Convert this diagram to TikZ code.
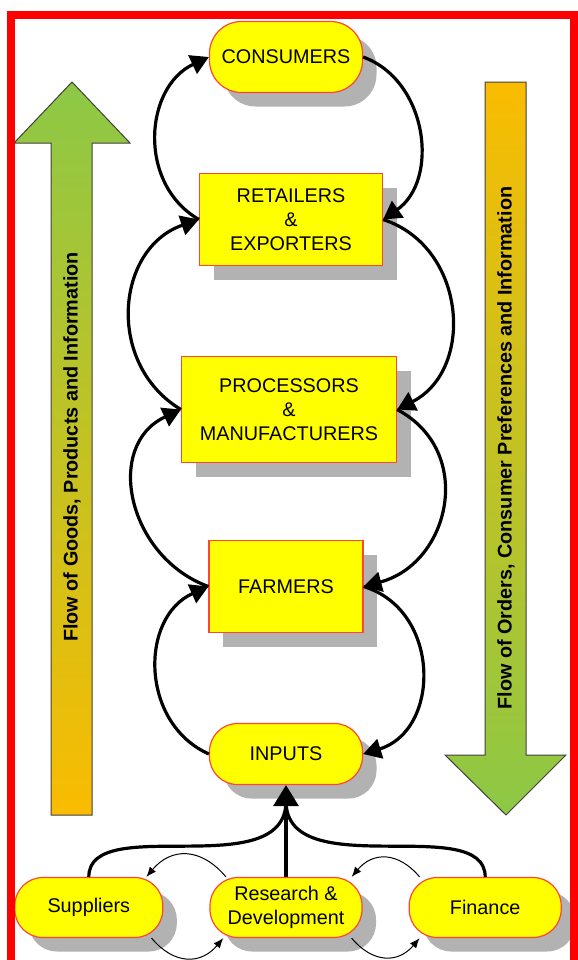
\documentclass[tikz,border=0pt]{standalone}
\usepackage{fontspec}
\setmainfont{Liberation Sans}
\usetikzlibrary{arrows.meta, positioning, shadows}

\definecolor{boxyellow}{RGB}{255,255,0}
\definecolor{boxedge}{RGB}{255,70,50}
\definecolor{shadowgray}{RGB}{178,178,178}
\definecolor{flowgreen}{RGB}{140,200,70}
\definecolor{floworange}{RGB}{250,188,0}
\definecolor{framered}{RGB}{255,0,0}

\begin{document}
\begin{tikzpicture}[
    x=0.5pt, y=0.5pt,
    font=\fontsize{9.9}{12}\selectfont,
    box/.style={rectangle, draw=boxedge, line width=0.6pt, fill=boxyellow, align=center, inner sep=2pt,
        drop shadow={shadow xshift=7pt, shadow yshift=-7pt, fill=shadowgray, opacity=1}},
    pill/.style={box, rounded corners=14pt, minimum width=76.5pt, minimum height=30.5pt},
    flowarrow/.style={draw=black!75, line width=0.5pt},
    flowtext/.style={rotate=90, font=\fontsize{9.9}{12}\selectfont\bfseries},
    link/.style={-{Triangle[length=9pt, width=10pt]}, line width=1.6pt},
    feed/.style={line width=1.6pt, shorten >=8pt},
    bigarrow/.style={-{Triangle[length=10.5pt, width=12.5pt]}, line width=1.6pt},
    sidelink/.style={-{Latex[length=5pt, width=4pt]}, line width=0.5pt, looseness=1.25},
    redframe/.style={draw=framered, line width=4pt}
]
\useasboundingbox (0,0) rectangle (578,-960);
\clip (0,0) rectangle (578,-960);

\draw[flowarrow, top color=flowgreen, bottom color=floworange] (51,-815) -- (51,-143) -- (14,-143) -- (72,-82) -- (130,-143) -- (92,-143) -- (92,-815) -- cycle;
\node[flowtext] (goods) at (72,-447) {Flow of Goods, Products and Information};
\draw[flowarrow, top color=floworange, bottom color=flowgreen] (485,-82) -- (526,-82) -- (526,-755) -- (566,-755) -- (506,-815) -- (445,-755) -- (485,-755) -- cycle;
\node[flowtext] (orders) at (506,-448) {Flow of Orders, Consumer Preferences and Information};

\node[pill, minimum height=35.5pt, rounded corners=16pt] (cons) at (286,-57) {CONSUMERS};
\node[box, minimum width=91.5pt, minimum height=46pt, below=39.9pt of cons, xshift=2.5pt] (ret) {RETAILERS\\\&\\EXPORTERS};
\node[box, minimum width=107.5pt, minimum height=53pt, below=44.9pt of ret, xshift=-1pt] (proc) {PROCESSORS\\\&\\MANUFACTURERS};
\node[box, minimum width=77pt, minimum height=46pt, below=38.4pt of proc, xshift=-1.5pt] (farm) {FARMERS};
\node[pill, below=44.9pt of farm] (inp) {INPUTS};
\node[pill, minimum width=76pt, minimum height=30pt, below=45.9pt of inp] (rd) {Research \&\\Development};
\node[pill, minimum width=74pt, minimum height=30pt, left=23pt of rd] (sup) {Suppliers};
\node[pill, minimum width=76pt, minimum height=30pt, right=23pt of rd] (fin) {Finance};

\draw[link] (ret.west) to[out=150, in=205, looseness=1.12] (cons.west);
\draw[link] (cons.east) to[out=-20, in=35, looseness=1.08] (ret.east);
\draw[link] (proc.west) to[out=149, in=199, looseness=1.18] (ret.west);
\draw[link] (ret.east) to[out=-18, in=27, looseness=1.18] (proc.east);
\draw[link] (farm.west) to[out=160, in=205, looseness=1.22] (proc.west);
\draw[link] (proc.east) to[out=-28, in=15, looseness=1.27] (farm.east);
\draw[link] (inp.west) to[out=156, in=204, looseness=1.15] (farm.west);
\draw[link] (farm.east) to[out=-17, in=17, looseness=1.24] (inp.east);

\draw[feed] (sup.north) .. controls +(0,65) and +(0,-100) .. (inp.south);
\draw[feed] (fin.north) .. controls +(0,65) and +(0,-100) .. (inp.south);
\draw[bigarrow] (rd.north) -- (inp.south);

\draw[sidelink] (rd.153) to[out=130, in=50] (sup.28);
\draw[sidelink] (sup.-26) to[out=-50, in=-130] (rd.206);
\draw[sidelink] (fin.155) to[out=130, in=50] (rd.25);
\draw[sidelink] (rd.-25) to[out=-50, in=-130] (fin.205);

\draw[redframe] (11,-15) rectangle (574,-1000);
\end{tikzpicture}
\end{document}
